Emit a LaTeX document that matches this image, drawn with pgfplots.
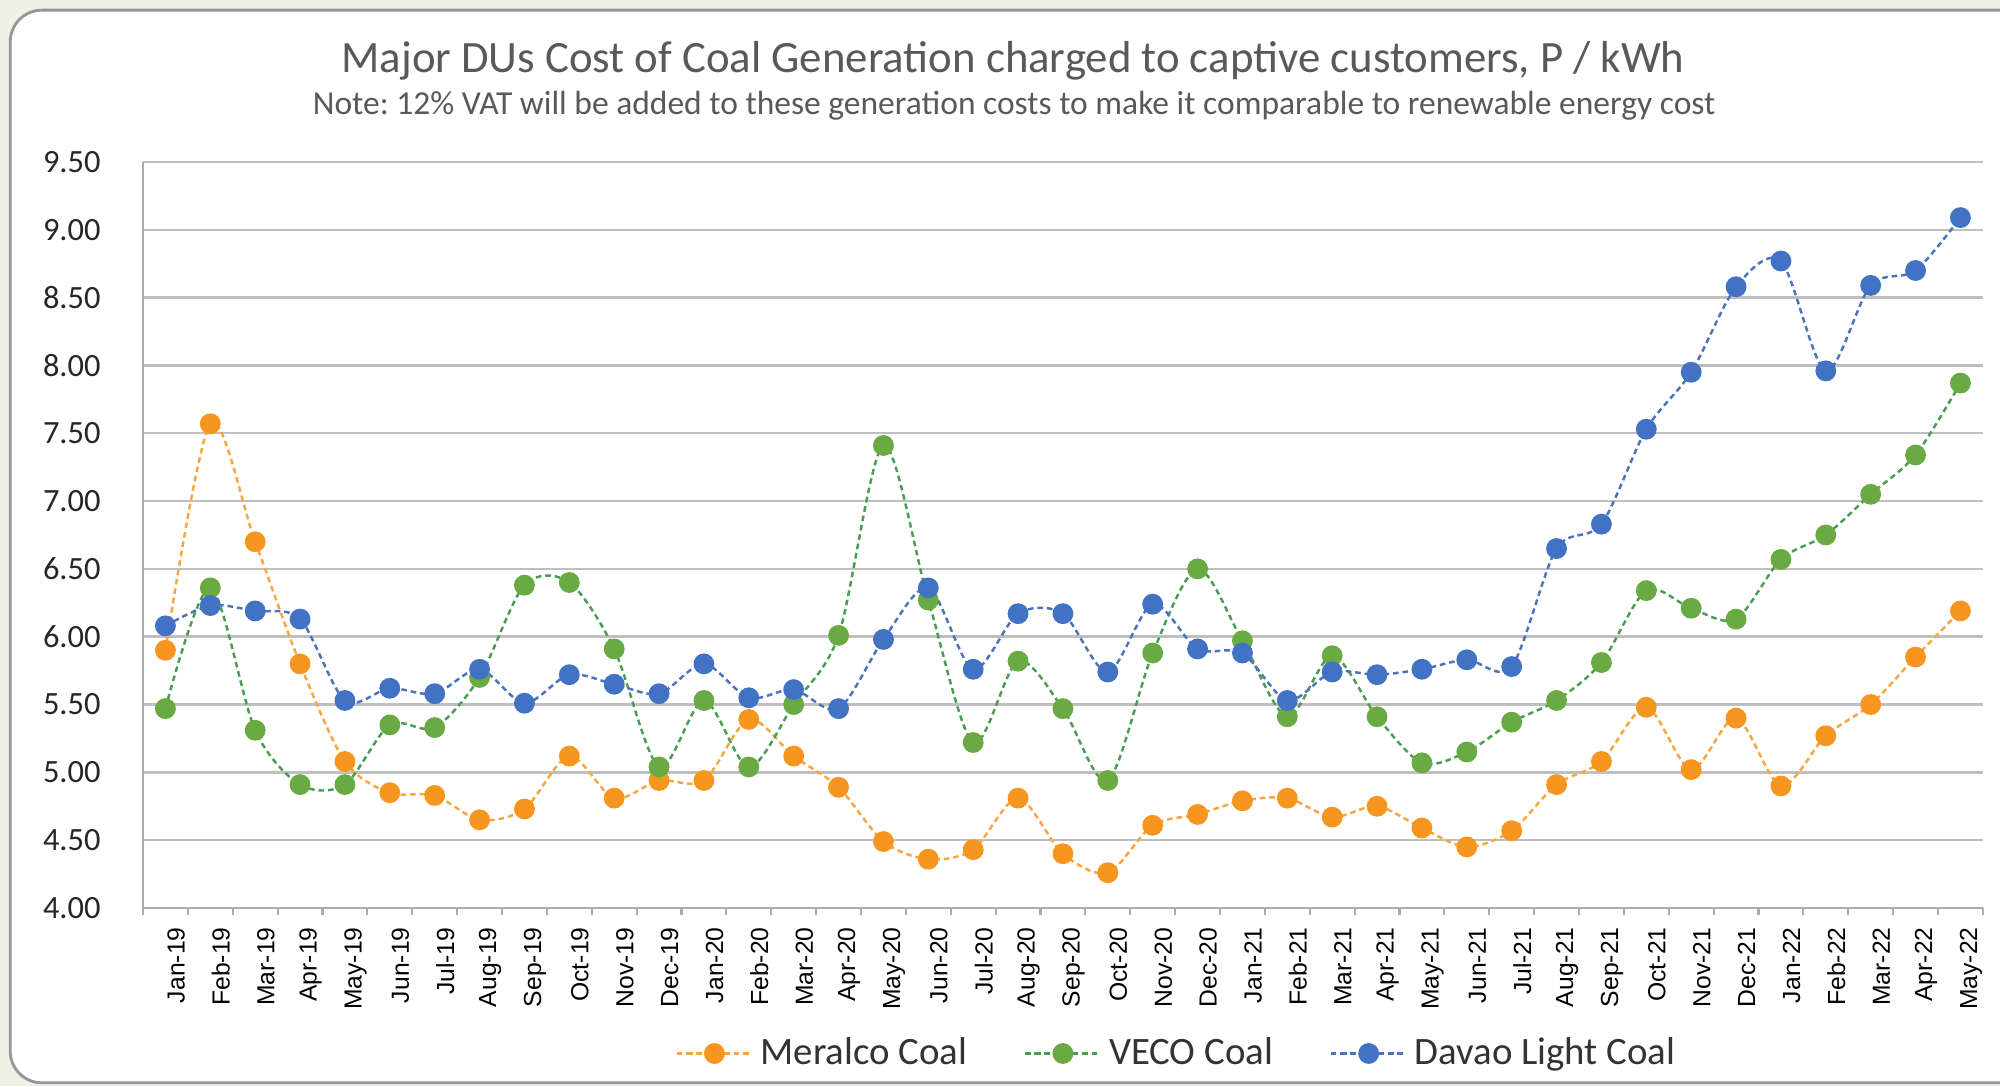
\documentclass[border=0pt]{standalone}
\usepackage{fontspec}
\setmainfont{Carlito}
\newfontfamily\arialf{Liberation Sans}
\usepackage{pgfplots}
\pgfplotsset{compat=1.18}
\frenchspacing
\definecolor{cOrange}{RGB}{247,150,30}
\definecolor{cGreen}{RGB}{106,170,66}
\definecolor{cBlue}{RGB}{66,114,196}
\definecolor{bgGreen}{RGB}{238,241,228}
\definecolor{gridGray}{RGB}{191,191,191}
\definecolor{txtGray}{RGB}{89,89,89}
\definecolor{frameGray}{RGB}{150,150,150}

\begin{document}
\begin{tikzpicture}
\path[use as bounding box] (0pt,0pt) rectangle (567pt,307.88pt);
\clip (0pt,0pt) rectangle (567pt,307.88pt);
\fill[bgGreen] (0pt,0pt) rectangle (567pt,307.88pt);
\draw[frameGray, line width=0.8pt, fill=white, rounded corners=9pt] (2.9pt,0.9pt) rectangle (580pt,305pt);

\begin{axis}[
  at={(40.54pt,50.46pt)}, anchor=south west,
  scale only axis, width=521.6pt, height=211.5pt,
  xmin=-0.5, xmax=40.5, ymin=4, ymax=9.5,
  axis x line*=bottom, axis y line*=left,
  axis line style={gridGray!90!black, line width=0.7pt},
  ytick={4,4.5,...,9.5},
  ymajorgrids, grid style={gridGray, line width=0.7pt},
  ytick style={draw=none},
  /pgf/number format/assume math mode=true,
  y tick label style={font=\fontsize{9.2}{11}\selectfont, text=black!85, xshift=-8.5pt,
    /pgf/number format/fixed, /pgf/number format/fixed zerofill, /pgf/number format/precision=2},
  xtick={-0.5,0.5,...,40.5},
  x tick label as interval,
  xtick align=outside,
  major tick length=2pt,
  xtick style={gridGray!90!black, line width=0.6pt},
  xticklabels={Jan-19,Feb-19,Mar-19,Apr-19,May-19,Jun-19,Jul-19,Aug-19,Sep-19,Oct-19,Nov-19,Dec-19,
    Jan-20,Feb-20,Mar-20,Apr-20,May-20,Jun-20,Jul-20,Aug-20,Sep-20,Oct-20,Nov-20,Dec-20,
    Jan-21,Feb-21,Mar-21,Apr-21,May-21,Jun-21,Jul-21,Aug-21,Sep-21,Oct-21,Nov-21,Dec-21,
    Jan-22,Feb-22,Mar-22,Apr-22,May-22},
  x tick label style={font=\arialf\fontsize{7}{8}\selectfont, text=black, rotate=90, anchor=east, yshift=-3pt},
  legend columns=3,
  legend style={at={(0.563,-0.195)}, anchor=center, draw=none, fill=none,
    font=\fontsize{11}{13}\selectfont, text=black!80,
    /tikz/every even column/.append style={column sep=14pt}},
  legend image code/.code={\draw[mark repeat=2,mark phase=2,#1] plot coordinates {(0pt,0pt) (10.75pt,0pt) (21.5pt,0pt)};},
]
\addplot[cOrange!85, line width=0.7pt, dash pattern=on 1.6pt off 1.1pt, smooth, tension=0.5,
  mark=*, mark size=2.6pt, mark options={solid, fill=cOrange, draw=cOrange}] table {
x y
0 5.90
1 7.57
2 6.70
3 5.80
4 5.08
5 4.85
6 4.83
7 4.65
8 4.73
9 5.12
10 4.81
11 4.94
12 4.94
13 5.39
14 5.12
15 4.89
16 4.49
17 4.36
18 4.43
19 4.81
20 4.40
21 4.26
22 4.61
23 4.69
24 4.79
25 4.81
26 4.67
27 4.75
28 4.59
29 4.45
30 4.57
31 4.91
32 5.08
33 5.48
34 5.02
35 5.40
36 4.90
37 5.27
38 5.50
39 5.85
40 6.19
};
\addlegendentry{Meralco Coal}
\addplot[cGreen!70!teal, line width=0.7pt, dash pattern=on 1.6pt off 1.1pt, smooth, tension=0.5,
  mark=*, mark size=2.6pt, mark options={solid, fill=cGreen, draw=cGreen}] table {
x y
0 5.47
1 6.36
2 5.31
3 4.91
4 4.91
5 5.35
6 5.33
7 5.70
8 6.38
9 6.40
10 5.91
11 5.04
12 5.53
13 5.04
14 5.50
15 6.01
16 7.41
17 6.27
18 5.22
19 5.82
20 5.47
21 4.94
22 5.88
23 6.50
24 5.97
25 5.41
26 5.86
27 5.41
28 5.07
29 5.15
30 5.37
31 5.53
32 5.81
33 6.34
34 6.21
35 6.13
36 6.57
37 6.75
38 7.05
39 7.34
40 7.87
};
\addlegendentry{VECO Coal}
\addplot[cBlue!85!gray, line width=0.7pt, dash pattern=on 1.6pt off 1.1pt, smooth, tension=0.5,
  mark=*, mark size=2.6pt, mark options={solid, fill=cBlue, draw=cBlue}] table {
x y
0 6.08
1 6.23
2 6.19
3 6.13
4 5.53
5 5.62
6 5.58
7 5.76
8 5.51
9 5.72
10 5.65
11 5.58
12 5.80
13 5.55
14 5.61
15 5.47
16 5.98
17 6.36
18 5.76
19 6.17
20 6.17
21 5.74
22 6.24
23 5.91
24 5.88
25 5.53
26 5.74
27 5.72
28 5.76
29 5.83
30 5.78
31 6.65
32 6.83
33 7.53
34 7.95
35 8.58
36 8.77
37 7.96
38 8.59
39 8.70
40 9.09
};
\addlegendentry{Davao Light Coal}
\end{axis}

\node[anchor=base, font=\fontsize{12.7}{15}\selectfont, text=txtGray] at (287.2pt,287.2pt)
  {Major DUs Cost of Coal Generation charged to captive customers, P / kWh};
\node[anchor=base, font=\fontsize{9.5}{11}\selectfont, text=txtGray] at (287.5pt,275.3pt)
  {Note: 12\% VAT will be added to these generation costs to make it comparable to renewable energy cost};
\end{tikzpicture}
\end{document}
